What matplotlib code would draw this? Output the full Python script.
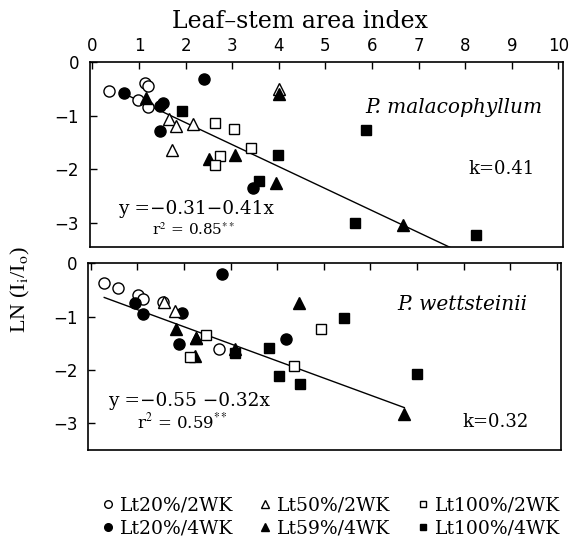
import matplotlib
matplotlib.use("Agg")
import matplotlib.pyplot as plt
import numpy as np
from matplotlib.lines import Line2D

plt.rcParams['mathtext.fontset'] = 'stix'

# ---------------- data: P. malacophyllum (top) ----------------
m_o20_x = [0.36, 1.12, 1.20, 0.97, 1.19]
m_o20_y = [-0.53, -0.39, -0.45, -0.70, -0.84]
m_f20_x = [0.67, 1.45, 1.51, 1.44, 2.40, 3.44]
m_f20_y = [-0.57, -0.82, -0.77, -1.28, -0.31, -2.35]
m_o50_x = [1.65, 1.80, 2.15, 1.71, 4.00]
m_o50_y = [-1.07, -1.19, -1.16, -1.64, -0.51]
m_f59_x = [1.15, 4.00, 2.51, 3.05, 3.93, 6.66]
m_f59_y = [-0.67, -0.59, -1.80, -1.73, -2.25, -3.03]
m_o100_x = [2.64, 3.03, 3.40, 2.73, 2.62]
m_o100_y = [-1.13, -1.24, -1.60, -1.75, -1.92]
m_f100_x = [1.92, 3.98, 3.58, 5.86, 5.64, 8.23]
m_f100_y = [-0.91, -1.73, -2.21, -1.27, -3.00, -3.23]
m_a, m_b = -0.31, -0.41

# ---------------- data: P. wettsteinii (bottom) ----------------
w_o20_x = [0.29, 0.58, 1.01, 1.12, 1.55, 2.76]
w_o20_y = [-0.38, -0.46, -0.60, -0.67, -0.73, -1.61]
w_f20_x = [2.81, 0.96, 1.12, 1.96, 1.90, 4.19]
w_f20_y = [-0.21, -0.74, -0.96, -0.93, -1.51, -1.42]
w_o50_x = [1.58, 1.80, 2.26]
w_o50_y = [-0.73, -0.90, -1.40]
w_f59_x = [1.83, 2.25, 2.24, 3.10, 4.46, 6.73]
w_f59_y = [-1.23, -1.40, -1.74, -1.61, -0.75, -2.83]
w_o100_x = [2.47, 2.12, 4.94, 4.36]
w_o100_y = [-1.34, -1.75, -1.23, -1.92]
w_f100_x = [3.10, 3.83, 4.03, 5.44, 4.50, 7.00]
w_f100_y = [-1.69, -1.59, -2.11, -1.03, -2.26, -2.08]
w_a, w_b = -0.55, -0.32

labels = ['Lt20%/2WK', 'Lt20%/4WK', 'Lt50%/2WK', 'Lt59%/4WK', 'Lt100%/2WK', 'Lt100%/4WK']
x_ticks = list(range(0, 11))
y_ticks = [0, -1, -2, -3]
y_ticklabels = ['0', '\u22121', '\u22122', '\u22123']

fig = plt.figure(figsize=(5.74, 5.47), dpi=100)
ax1 = fig.add_axes([0.157, 0.5484, 0.824, 0.338])
ax2 = fig.add_axes([0.154, 0.177, 0.824, 0.342])

styles = [
    dict(marker='o', mfc='white', mec='black', ms=8),
    dict(marker='o', mfc='black', mec='black', ms=8),
    dict(marker='^', mfc='white', mec='black', ms=8),
    dict(marker='^', mfc='black', mec='black', ms=8),
    dict(marker='s', mfc='white', mec='black', ms=7),
    dict(marker='s', mfc='black', mec='black', ms=7),
]

def panel(ax, series, a, b, x0, x1):
    xs = np.array([x0, x1])
    ax.plot(xs, a + b * xs, color='black', lw=1.0, zorder=1)
    for (x, y), st in zip(series, styles):
        ax.plot(x, y, ls='none', mew=1.0, zorder=3, **st)
    ax.set_xlim(-0.05, 10.1)
    ax.set_xticks(x_ticks)
    ax.set_yticks(y_ticks)
    ax.set_yticklabels(y_ticklabels)
    ax.tick_params(axis='both', direction='in', length=5, width=1,
                   labelsize=12, top=True, bottom=False, left=True, right=False)
    ax.tick_params(axis='y', pad=8)
    for s in ax.spines.values():
        s.set_linewidth(1.2)

panel(ax1, [(m_o20_x, m_o20_y), (m_f20_x, m_f20_y), (m_o50_x, m_o50_y),
            (m_f59_x, m_f59_y), (m_o100_x, m_o100_y), (m_f100_x, m_f100_y)],
      m_a, m_b, 0.7, 8.2)
ax1.set_ylim(-3.45, 0.0)
ax1.tick_params(axis='x', labeltop=True, labelbottom=False, pad=5)

panel(ax2, [(w_o20_x, w_o20_y), (w_f20_x, w_f20_y), (w_o50_x, w_o50_y),
            (w_f59_x, w_f59_y), (w_o100_x, w_o100_y), (w_f100_x, w_f100_y)],
      w_a, w_b, 0.29, 6.73)
ax2.set_ylim(-3.5, 0.0)
ax2.tick_params(axis='x', labeltop=False, labelbottom=False)

ser = 'DejaVu Serif'
fig.text(300 / 574, 1 - 21 / 547, 'Leaf\u2013stem area index', family=ser, fontsize=17,
         ha='center', va='center')

ax1.text(9.66, -0.85, 'P. malacophyllum', style='italic', family=ser, fontsize=14.5,
         ha='right', va='center')
ax1.text(9.49, -2.0, 'k=0.41', family=ser, fontsize=13, ha='right', va='center')
ax1.text(0.55, -2.74, 'y =\u22120.31\u22120.41x', family=ser, fontsize=13.3, ha='left', va='center')
ax1.text(1.27, -3.13, 'r$^{2}$ = 0.85$^{**}$', family=ser, fontsize=11, ha='left', va='center')

ax2.text(9.36, -0.78, 'P. wettsteinii', style='italic', family=ser, fontsize=14.5,
         ha='right', va='center')
ax2.text(9.4, -2.98, 'k=0.32', family=ser, fontsize=13, ha='right', va='center')
ax2.text(0.38, -2.58, 'y =\u22120.55 \u22120.32x', family=ser, fontsize=13.3, ha='left', va='center')
ax2.text(1.0, -2.98, 'r$^{2}$ = 0.59$^{**}$', family=ser, fontsize=12, ha='left', va='center')

fig.text(0.035, 1 - 290 / 547, 'LN (I$_{\\mathrm{i}}$/I$_{\\mathrm{o}}$)', rotation=90,
         family='Liberation Serif', fontsize=16, ha='center', va='center')

handles = [Line2D([], [], ls='none', mew=1.0,
                  **dict(st, ms=st['ms'] - 2.5)) for st in styles]
fig.legend(handles, labels, ncol=3, loc='center', bbox_to_anchor=(0.575, 1 - 517 / 547),
           frameon=False, prop={'family': ser, 'size': 13.5}, handletextpad=0.25,
           columnspacing=1.3, labelspacing=0.25, handlelength=0.8,
           borderpad=0, borderaxespad=0)

fig.savefig('out.png', dpi=100)
